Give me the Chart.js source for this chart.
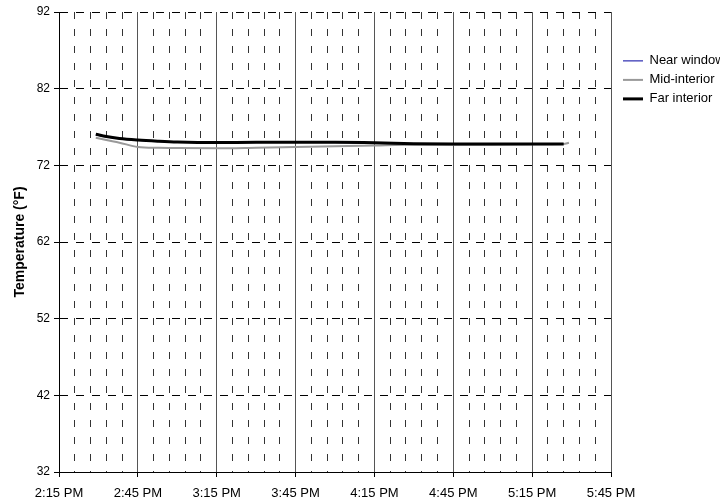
<!DOCTYPE html>
<html lang="en">
<head>
  <meta charset="UTF-8">
  <title>Room temperature</title>
  <script src="https://cdn.jsdelivr.net/npm/chart.js"></script>
  <style>
    html, body { margin: 0; padding: 0; background: #fff; }
    #wrap { width: 720px; height: 500px; }
  </style>
</head>
<body>
  <div id="wrap"><canvas id="chart"></canvas></div>
  <script>
    // readings (clock time, °F)
    const times = ['2:29 PM', '2:33 PM', '2:38 PM', '2:45 PM', '2:53 PM', '3:00 PM', '3:15 PM', '3:30 PM',
      '3:45 PM', '4:00 PM', '4:15 PM', '4:30 PM', '4:45 PM', '5:00 PM', '5:15 PM', '5:27 PM', '5:29 PM'];
    const nearWindow = [75.95, 75.7, 75.45, 75.25, 75.1, 75.0, 74.95, 74.97, 74.98, 74.97, 74.92, 74.8, 74.76, 74.76, 74.76, 74.76, null];
    const midInterior = [75.6, 75.3, 74.95, 74.4, 74.28, 74.25, 74.22, 74.3, 74.4, 74.5, 74.6, 74.68, 74.68, 74.7, 74.74, 74.78, 74.95];
    const farInterior = [76.05, 75.75, 75.5, 75.3, 75.15, 75.05, 74.97, 75.0, 75.0, 75.0, 74.95, 74.82, 74.78, 74.78, 74.78, 74.78, null];
    const seriesNames = ['Near window', 'Mid-interior', 'Far interior'];

    const xStart = '2:15 PM', xEnd = '5:45 PM';
    const yTicks = [32, 42, 52, 62, 72, 82, 92];

    function toMin(t) {
      const [hm, ap] = t.split(' ');
      let [h, m] = hm.split(':').map(Number);
      if (ap === 'PM' && h !== 12) h += 12;
      return h * 60 + m;
    }
    function fmt(v) {
      let h = Math.floor(v / 60), m = v % 60;
      const ap = h >= 12 ? 'PM' : 'AM';
      if (h > 12) h -= 12;
      return h + ':' + String(m).padStart(2, '0') + ' ' + ap;
    }
    const x0 = toMin(xStart);
    const isMajor = v => (v - x0) % 30 === 0;
    const pts = arr => times.map((t, i) => ({ x: toMin(t), y: arr[i] }));

    const FONT = 'Arial, "Liberation Sans", sans-serif';

    new Chart(document.getElementById('chart'), {
      type: 'line',
      data: {
        datasets: [
          { label: seriesNames[0], data: pts(nearWindow), borderColor: '#0000a0', borderWidth: 1, order: 2 },
          { label: seriesNames[1], data: pts(midInterior), borderColor: '#999999', borderWidth: 2, order: 1 },
          { label: seriesNames[2], data: pts(farInterior), borderColor: '#000000', borderWidth: 3, order: 0 }
        ]
      },
      options: {
        responsive: true,
        maintainAspectRatio: false,
        animation: false,
        layout: { padding: { top: 12, right: 0, bottom: 2, left: 12 } },
        elements: {
          point: { radius: 0 },
          line: { cubicInterpolationMode: 'monotone', fill: false }
        },
        scales: {
          x: {
            type: 'linear',
            min: toMin(xStart),
            max: toMin(xEnd),
            afterFit: s => { s.height = 26; },
            ticks: {
              stepSize: 6,
              maxTicksLimit: 60,
              autoSkip: false,
              maxRotation: 0,
              padding: 9,
              color: '#000',
              font: { family: FONT, size: 13 },
              callback: v => isMajor(v) ? fmt(v) : ''
            },
            grid: {
              color: ctx => isMajor(ctx.tick.value) ? '#555' : '#333',
              lineWidth: 1,
              tickLength: 5,
              tickColor: ctx => isMajor(ctx.tick.value) ? '#000' : 'rgba(0,0,0,0)'
            },
            border: {
              display: true,
              color: '#000',
              width: 1,
              dash: ctx => (ctx.tick && isMajor(ctx.tick.value)) ? [] : [7, 10]
            }
          },
          y: {
            min: yTicks[0],
            max: yTicks[yTicks.length - 1],
            afterBuildTicks: s => { s.ticks = yTicks.map(v => ({ value: v })); },
            afterFit: s => { s.width = 47; },
            ticks: {
              padding: 4,
              color: '#000',
              font: { family: FONT, size: 12 }
            },
            grid: {
              color: '#000',
              lineWidth: 1,
              tickLength: 5,
              tickColor: '#000'
            },
            border: { display: true, color: '#000', width: 1, dash: [8, 8] },
            title: {
              display: true,
              text: 'Temperature (°F)',
              color: '#000',
              padding: 0,
              font: { family: FONT, size: 14, weight: 'bold' }
            }
          },
          // empty spacer between plot and legend
          gap: {
            position: 'right',
            display: true,
            afterFit: s => { s.width = 6; },
            grid: { display: false },
            ticks: { display: false },
            border: { display: false }
          }
        },
        plugins: {
          tooltip: { enabled: false },
          legend: {
            position: 'right',
            align: 'start',
            maxWidth: 103,
            title: { display: true, text: '', padding: { top: 0, bottom: 22 } },
            labels: {
              usePointStyle: true,
              pointStyle: 'line',
              pointStyleWidth: 20,
              padding: 6,
              color: '#000',
              font: { family: FONT, size: 13 },
              sort: (a, b) => a.datasetIndex - b.datasetIndex
            }
          }
        }
      }
    });
  </script>
</body>
</html>
